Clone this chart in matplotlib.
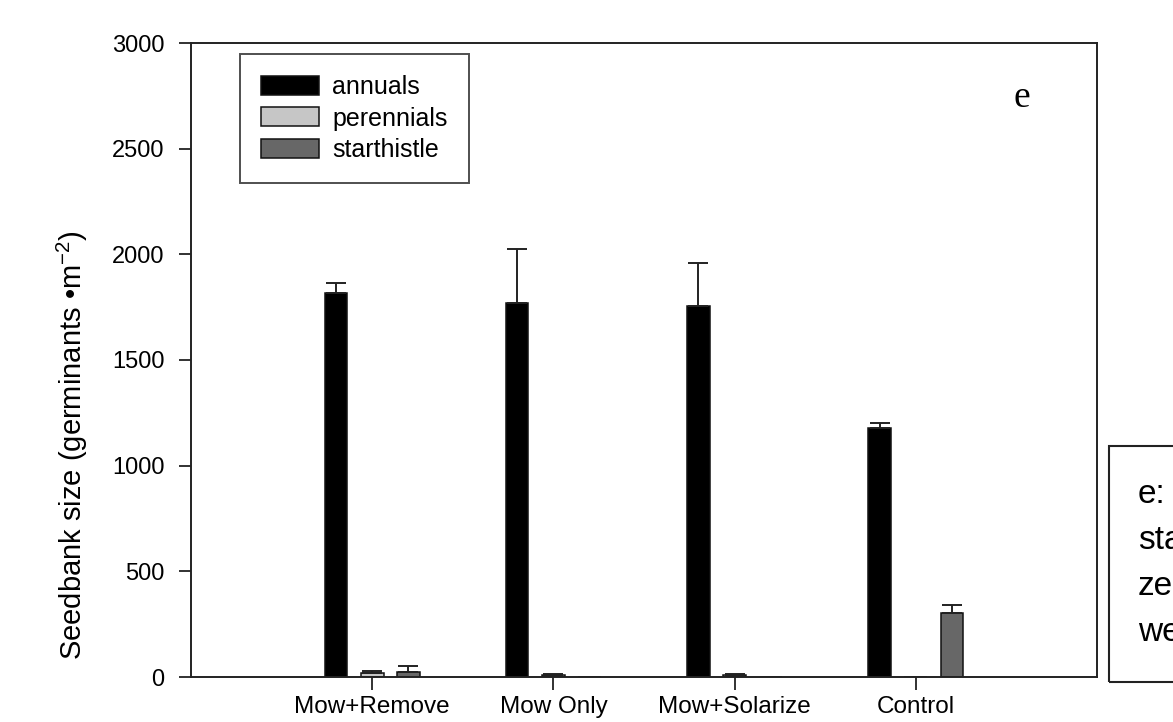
import numpy as np
import matplotlib
matplotlib.use('Agg')
import matplotlib.pyplot as plt
from matplotlib.patches import Rectangle

plt.rcParams['font.family'] = ['Liberation Sans', 'DejaVu Sans']
plt.rcParams['mathtext.fontset'] = 'custom'
plt.rcParams['mathtext.rm'] = 'Liberation Sans'
plt.rcParams['mathtext.default'] = 'regular'

# seedbank means and upper standard errors (germinants per m2)
treatments = ['Mow+Remove', 'Mow Only', 'Mow+Solarize', 'Control']
annuals = [1815, 1768, 1757, 1180]
annuals_se = [48, 258, 200, 20]
perennials = [20, 8, 8, 0]
perennials_se = [8, 5, 5, 0]
starthistle = [25, 0, 0, 305]
starthistle_se = [28, 0, 0, 37]

series = [
    ('annuals', annuals, annuals_se, '#000000'),
    ('perennials', perennials, perennials_se, '#c6c6c6'),
    ('starthistle', starthistle, starthistle_se, '#676767'),
]

W, H = 1173, 722
fig = plt.figure(figsize=(W / 100, H / 100), dpi=100)
ax = fig.add_axes([191 / W, 1 - 677 / H, (1097 - 191) / W, (677 - 43) / H])

x = np.arange(1, len(treatments) + 1)
bar_w = 0.125
offsets = [-0.2, 0.0, 0.2]

for (name, vals, se, col), off in zip(series, offsets):
    vals = np.array(vals, dtype=float)
    se = np.array(se, dtype=float)
    ax.bar(x + off, vals, bar_w, color=col, edgecolor='#111111', linewidth=1.1,
           label=name, zorder=2)
    keep = (vals > 0) | (se > 0)
    ax.errorbar(x[keep] + off, vals[keep],
                yerr=[np.zeros(keep.sum()), se[keep]],
                fmt='none', ecolor='#222222', elinewidth=1.4,
                capsize=7, capthick=1.4, zorder=3)

ax.set_xlim(0, 5)
ax.set_ylim(0, 3000)
ax.set_xticks(x)
ax.set_xticklabels(treatments)
ax.set_yticks(np.arange(0, 3001, 500))

for sp in ax.spines.values():
    sp.set_linewidth(1.4)
    sp.set_color('#222222')
ax.tick_params(direction='out', length=9, width=1.3, color='#222222',
               top=False, right=False)
ax.tick_params(axis='y', pad=10, labelsize=17)
ax.tick_params(axis='x', pad=5, labelsize=17.5)

ax.set_ylabel('Seedbank size (germinants •m$^{-2}$)', fontsize=21)
ax.yaxis.set_label_coords(-0.111, 0.366)

leg = ax.legend(loc='upper left', bbox_to_anchor=(0.054, 0.983),
                borderaxespad=0, fontsize=18, frameon=True, fancybox=False,
                handlelength=2.3, handleheight=0.8, handletextpad=0.55,
                labelspacing=0.3, borderpad=0.85)
leg.get_frame().set_edgecolor('#222222')
leg.get_frame().set_linewidth(1.4)

ax.text(0.917, 0.899, 'e', transform=ax.transAxes, fontsize=27,
        family='Liberation Serif', ha='center', va='baseline')

# side note box running off the right edge
fig.patches.append(Rectangle((1109 / W, 1 - 682 / H), 0.2, (682 - 446) / H,
                             transform=fig.transFigure, fill=False,
                             edgecolor='#222222', linewidth=1.5))
note_lines = ['e:', 'sta', 'ze', 'we']
for i, line in enumerate(note_lines):
    fig.text(1138 / W, 1 - (503 + 46 * i) / H, line, fontsize=24,
             ha='left', va='baseline')

fig.savefig('out.png', dpi=100)
